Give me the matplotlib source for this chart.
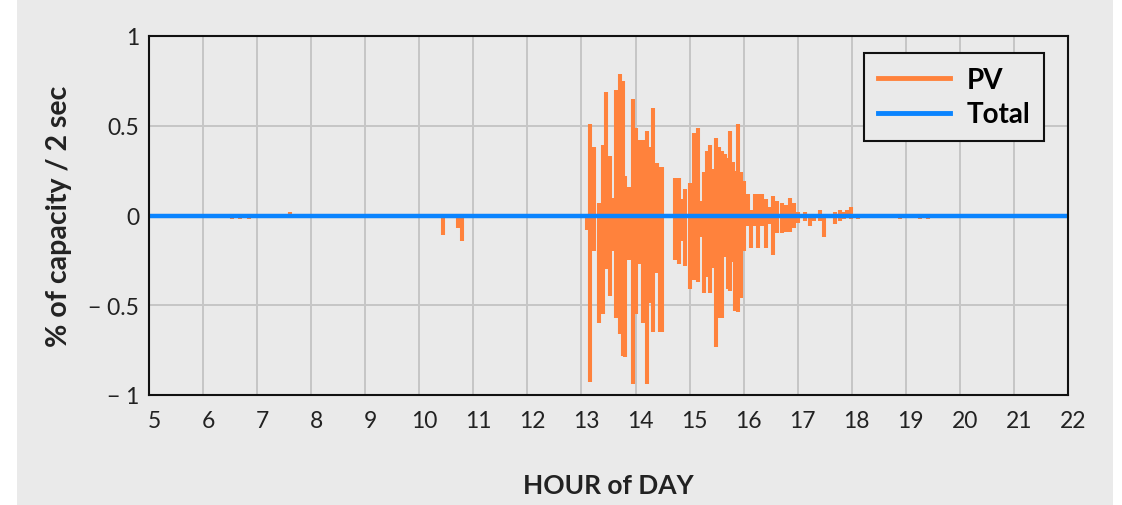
import numpy as np
import matplotlib
matplotlib.use("Agg")
import matplotlib.pyplot as plt
import matplotlib.transforms as mtransforms
from matplotlib.patches import Rectangle

# PV ramp swings: one column per sample, high and low excursion (% of capacity / 2 sec)
pv_hours = [6.54, 6.68, 6.85, 7.61, 10.44, 10.72, 10.79,
            13.10, 13.16, 13.23, 13.32, 13.40, 13.45, 13.53, 13.60, 13.64, 13.71,
            13.77, 13.81, 13.88, 13.95, 14.01, 14.08, 14.14, 14.21, 14.27, 14.32,
            14.40, 14.45, 14.49,
            14.73, 14.77, 14.80, 14.86, 14.91, 15.01, 15.04, 15.08, 15.16, 15.21,
            15.27, 15.32, 15.38, 15.43, 15.49, 15.54, 15.60, 15.65, 15.71, 15.75,
            15.80, 15.84, 15.90, 15.95, 16.01, 16.08, 16.14, 16.21, 16.27, 16.34,
            16.41, 16.47, 16.54, 16.62, 16.71, 16.78, 16.86, 16.93, 17.01, 17.13,
            17.23, 17.30, 17.41, 17.49, 17.69, 17.78, 17.86, 17.91, 17.99, 18.12,
            18.24, 18.37, 18.52, 18.89, 19.26, 19.41]
pv_high = [0.0, 0.0, 0.0, 0.02, 0.0, 0.0, 0.0,
           0.0, 0.51, 0.38, 0.07, 0.39, 0.69, 0.33, 0.10, 0.70, 0.79,
           0.75, 0.22, 0.16, 0.65, 0.49, 0.42, 0.42, 0.47, 0.38, 0.60,
           0.29, 0.27, 0.27,
           0.21, 0.09, 0.21, 0.09, 0.15, 0.18, 0.0, 0.46, 0.49, 0.08,
           0.24, 0.36, 0.39, 0.26, 0.43, 0.38, 0.36, 0.34, 0.32, 0.47,
           0.30, 0.25, 0.51, 0.24, 0.19, 0.12, 0.03, 0.12, 0.12, 0.12,
           0.09, 0.05, 0.11, 0.08, 0.07, 0.06, 0.10, 0.07, 0.02, 0.02,
           0.01, 0.01, 0.03, 0.0, 0.02, 0.03, 0.02, 0.03, 0.05, 0.01,
           0.01, 0.01, 0.01, 0.0, 0.0, 0.0]
pv_low = [-0.02, -0.02, -0.02, 0.0, -0.11, -0.07, -0.14,
          -0.08, -0.93, -0.20, -0.60, -0.55, -0.30, -0.45, -0.20, -0.57, -0.66,
          -0.78, -0.79, -0.25, -0.94, -0.55, -0.27, -0.60, -0.94, -0.49, -0.65,
          -0.32, -0.65, -0.65,
          -0.25, -0.11, -0.27, -0.14, -0.28, -0.41, -0.04, -0.36, -0.37, -0.12,
          -0.43, -0.34, -0.43, -0.29, -0.73, -0.57, -0.57, -0.23, -0.41, -0.42,
          -0.26, -0.53, -0.54, -0.46, -0.20, -0.06, -0.18, -0.06, -0.18, -0.06,
          -0.18, -0.05, -0.22, -0.10, -0.10, -0.09, -0.09, -0.07, -0.04, -0.03,
          -0.06, -0.03, -0.03, -0.12, -0.05, -0.03, -0.02, -0.01, -0.02, -0.02,
          -0.01, -0.01, -0.01, -0.02, -0.02, -0.02]

# Net total stays flat across the day
total_hours = [5, 22]
total_vals = [0, 0]

x_ticks = list(range(5, 23))
y_ticks = [-1, -0.5, 0, 0.5, 1]
y_tick_labels = ["\u2212 1", "\u2212 0.5", "0", "0.5", "1"]

orange = "#ff823c"
blue = "#0a84ff"
panel = "#eaeaea"

plt.rcParams["font.family"] = ["Lato", "DejaVu Sans"]

fig = plt.figure(figsize=(11.22, 5.06), dpi=100, facecolor="white")
fig.patches.append(Rectangle((17 / 1122, 0), (1113 - 17) / 1122, 1,
                             transform=fig.transFigure, facecolor=panel,
                             edgecolor="none", zorder=-10))
ax = fig.add_axes([149 / 1122, 1 - 396 / 506, 919 / 1122, 359 / 506])
ax.set_facecolor(panel)

# each sample drawn as a vertical swing through zero
t = np.repeat(pv_hours, 4)
y = np.column_stack([np.zeros(len(pv_high)), pv_high, pv_low,
                     np.zeros(len(pv_high))]).ravel()
t = np.concatenate([[5], t, [22]])
y = np.concatenate([[0], y, [0]])
ax.plot(t, y, color=orange, lw=2.9, label="PV", solid_joinstyle="miter")
ax.plot(total_hours, total_vals, color=blue, lw=3.2, label="Total")

ax.set_xlim(5, 22)
ax.set_ylim(-1, 1)
ax.set_xticks(x_ticks)
ax.set_yticks(y_ticks)
ax.set_yticklabels(y_tick_labels)
ax.tick_params(length=0, labelsize=16.5, colors="#222222")
ax.tick_params(axis="x", pad=11)
ax.tick_params(axis="y", pad=7)
shift = mtransforms.ScaledTranslation(5 / 100, 0, fig.dpi_scale_trans)
for lbl in ax.get_xticklabels():
    lbl.set_transform(lbl.get_transform() + shift)

ax.grid(True, color="#c6c6c6", lw=1.4)
ax.set_axisbelow(True)
for s in ax.spines.values():
    s.set_color("#111111")
    s.set_linewidth(1.5)

ax.set_xlabel("HOUR of DAY", fontsize=19, fontweight="bold", labelpad=30,
              color="#222222")
ax.set_ylabel("% of capacity / 2 sec", fontsize=20.5, fontweight="bold",
              labelpad=12, color="#222222")

leg = ax.legend(loc="upper center", bbox_to_anchor=(0.876, 0.9526),
                borderaxespad=0, handlelength=2.6,
                handletextpad=0.6, borderpad=0.5, labelspacing=0.3,
                fancybox=False, framealpha=1, facecolor=panel,
                edgecolor="#111111", prop={"weight": "bold", "size": 20})
leg.get_frame().set_linewidth(1.5)
for line in leg.get_lines():
    line.set_linewidth(3.5)

fig.savefig("out.png", dpi=100, facecolor=fig.get_facecolor())
